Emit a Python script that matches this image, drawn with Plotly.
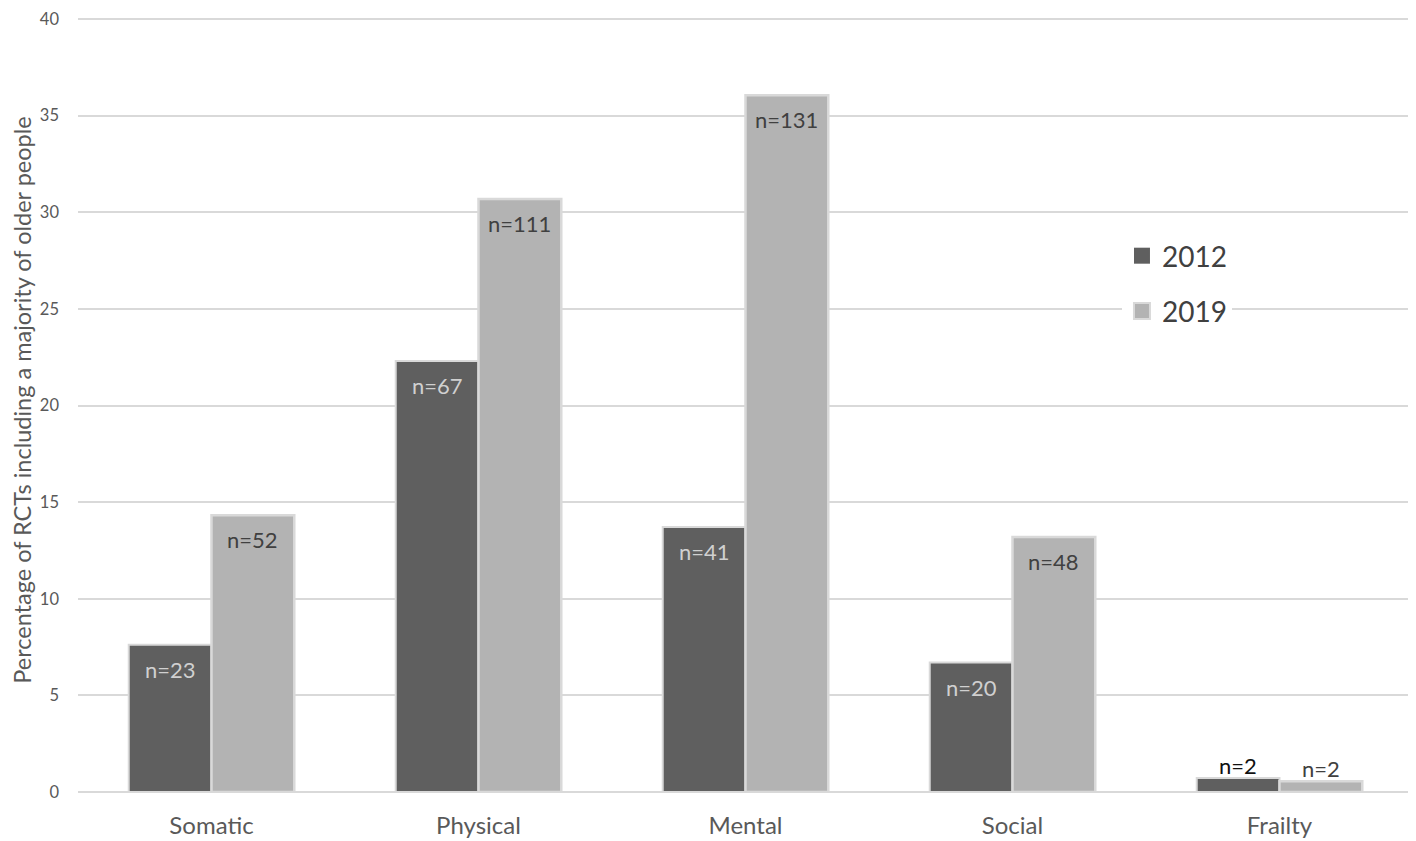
import plotly.graph_objects as go

categories = ["Somatic", "Physical", "Mental", "Social", "Frailty"]
vals_2012 = [7.62, 22.3, 13.71, 6.7, 0.72]
vals_2019 = [14.32, 30.69, 36.06, 13.2, 0.56]
n_2012 = ["n=23", "n=67", "n=41", "n=20", "n=2"]
n_2019 = ["n=52", "n=111", "n=131", "n=48", "n=2"]
y_ticks = [0, 5, 10, 15, 20, 25, 30, 35, 40]
series_names = ["2012", "2019"]

FONT = "Lato, 'Open Sans', sans-serif"
DARK = "#5f5f5f"
LIGHT = "#b3b3b3"

# page body has an 8px margin, so the figure is sized to end at the window edge
W, H = 1408, 833
ML, MR, MT, MB = 70, 3, 0, 49
BARGAP = 0.38
Y_MAX = 40.57  # leaves room above the 40 gridline so the line and its label fit

fig = go.Figure()
fig.add_trace(go.Bar(
    name=series_names[0], x=categories, y=vals_2012,
    marker=dict(color=DARK, line=dict(color="#d9d9d9", width=2)),
    showlegend=False, hoverinfo="x+y",
))
fig.add_trace(go.Bar(
    name=series_names[1], x=categories, y=vals_2019,
    marker=dict(color=LIGHT, line=dict(color="#d9d9d9", width=2.5)),
    showlegend=False, hoverinfo="x+y",
))
# legend entries with larger square swatches
fig.add_trace(go.Scatter(
    x=[None], y=[None], mode="markers", name=series_names[0], legendgroup="a",
    marker=dict(symbol="square", size=18, color=DARK),
))
fig.add_trace(go.Scatter(
    x=[None], y=[None], mode="markers", name=series_names[1], legendgroup="b",
    marker=dict(symbol="square", size=18, color=LIGHT, line=dict(color="#d9d9d9", width=2)),
))

# value labels (n=...) placed at each bar top via the axes
cat_px = (W - ML - MR) / len(categories)
half_bar = cat_px * (1 - BARGAP) / 2 / 2
annotations = []
for vals, labels, sign, in_col, out_col in [
    (vals_2012, n_2012, -1, "#d0d0d0", "#111111"),
    (vals_2019, n_2019, 1, "#404040", "#404040"),
]:
    for c, v, t in zip(categories, vals, labels):
        inside = v >= 2
        annotations.append(dict(
            x=c, y=v, xref="x", yref="y", text=t, showarrow=False,
            xshift=sign * half_bar,
            yanchor="top" if inside else "bottom",
            yshift=-9 if inside else -3,
            font=dict(size=22, color=in_col if inside else out_col, family=FONT),
        ))

fig.update_layout(
    width=W, height=H,
    margin=dict(l=ML, r=MR, t=MT, b=MB, autoexpand=False),
    paper_bgcolor="white", plot_bgcolor="white",
    barmode="group", bargap=BARGAP, bargroupgap=0.0,
    font=dict(family=FONT, color="#595959"),
    annotations=annotations,
    legend=dict(
        x=0.782, y=0.6486, xanchor="left", yanchor="middle",
        font=dict(size=28, color="#404040", family=FONT),
        bgcolor="white", itemwidth=30, tracegroupgap=16,
    ),
    xaxis=dict(
        showgrid=False, showline=False, ticks="", automargin=False,
        tickfont=dict(size=24, color="#595959", family=FONT),
        ticklabelstandoff=17,
    ),
    yaxis=dict(
        range=[0, Y_MAX], tickvals=y_ticks, showgrid=True, automargin=False,
        gridcolor="#d9d9d9", gridwidth=1.5,
        zeroline=True, zerolinecolor="#d9d9d9", zerolinewidth=1.5,
        tickfont=dict(size=16.5, color="#595959", family=FONT),
        ticklabelstandoff=18, ticklabeloverflow="allow",
        title=dict(text="Percentage of RCTs including a majority of older people",
                   font=dict(size=23.5, color="#595959", family=FONT), standoff=30),
    ),
)

fig.write_html("out.html")
